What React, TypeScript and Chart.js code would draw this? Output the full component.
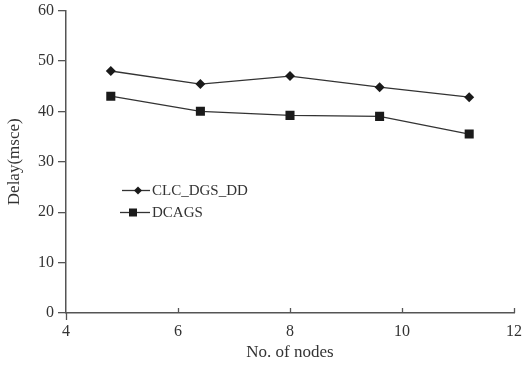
import React, { useEffect, useRef } from "react";
import { Chart, registerables } from "chart.js";

Chart.register(...registerables);

const nodes = [4.8, 6.4, 8.0, 9.6, 11.2];
const clcDgsDd = [48.0, 45.4, 47.0, 44.8, 42.8];
const dcags = [43.0, 40.0, 39.2, 39.0, 35.5];
const seriesNames = ["CLC_DGS_DD", "DCAGS"];
const xTicks = [4, 6, 8, 10, 12];
const yTicks = [0, 10, 20, 30, 40, 50, 60];

const FONT = "'Liberation Serif', 'Times New Roman', serif";
const TEXT = "#333333";
const AXIS = "#555555";
const LINE = "#333333";
const MARK = "#1a1a1a";

const customDraw = {
  id: "customDraw",
  afterDraw(chart: any) {
    const ctx = chart.ctx;
    const xs = chart.scales.x;
    const area = chart.chartArea;
    ctx.save();
    ctx.strokeStyle = AXIS;
    ctx.lineWidth = 1.3;
    xTicks.forEach((t, i) => {
      const px = Math.round(xs.getPixelForValue(t)) + 0.5;
      ctx.beginPath();
      if (i === 0) {
        ctx.moveTo(px, area.bottom);
        ctx.lineTo(px, area.bottom + 7);
      } else {
        ctx.moveTo(px, area.bottom);
        ctx.lineTo(px, area.bottom - 5);
      }
      ctx.stroke();
    });
    const entries = chart.data.datasets;
    const lx0 = area.left + 56;
    const ly0 = area.top + 180;
    entries.forEach((ds: any, i: number) => {
      const y = ly0 + i * 22;
      const x1 = lx0 - (i === 1 ? 2 : 0);
      const x2 = lx0 + 28;
      ctx.strokeStyle = LINE;
      ctx.lineWidth = 1.3;
      ctx.beginPath();
      ctx.moveTo(x1, y);
      ctx.lineTo(x2, y);
      ctx.stroke();
      ctx.fillStyle = MARK;
      const cx = i === 0 ? lx0 + 16 : lx0 + 11;
      if (ds.pointStyle === "rectRot") {
        ctx.beginPath();
        ctx.moveTo(cx, y - 4);
        ctx.lineTo(cx + 4, y);
        ctx.lineTo(cx, y + 4);
        ctx.lineTo(cx - 4, y);
        ctx.closePath();
        ctx.fill();
      } else {
        ctx.fillRect(cx - 4, y - 4, 8, 8);
      }
      ctx.fillStyle = TEXT;
      ctx.font = `15px ${FONT}`;
      ctx.textBaseline = "middle";
      ctx.textAlign = "left";
      ctx.fillText(ds.label, lx0 + 30, y + 1);
    });
    ctx.restore();
  },
};

export default function App() {
  const ref = useRef<HTMLCanvasElement>(null);
  useEffect(() => {
    document.body.style.margin = "0";
    const chart = new Chart(ref.current!, {
      type: "line",
      data: {
        datasets: [
          {
            label: seriesNames[0],
            data: nodes.map((x, i) => ({ x, y: clcDgsDd[i] })),
            borderColor: LINE,
            borderWidth: 1.3,
            pointStyle: "rectRot",
            pointRadius: 5,
            pointBackgroundColor: MARK,
            pointBorderColor: MARK,
            pointBorderWidth: 0,
            tension: 0,
          },
          {
            label: seriesNames[1],
            data: nodes.map((x, i) => ({ x, y: dcags[i] })),
            borderColor: LINE,
            borderWidth: 1.3,
            pointStyle: "rect",
            pointRadius: 6.4,
            pointBackgroundColor: MARK,
            pointBorderColor: MARK,
            pointBorderWidth: 0,
            tension: 0,
          },
        ],
      },
      options: {
        animation: false,
        responsive: false,
        maintainAspectRatio: false,
        layout: { padding: { top: 10.5, right: 10, bottom: 0, left: 0 } },
        plugins: { legend: { display: false }, tooltip: { enabled: false } },
        scales: {
          x: {
            type: "linear",
            min: 4,
            max: 12,
            afterBuildTicks: (s: any) => {
              s.ticks = xTicks.map((v) => ({ value: v }));
            },
            afterFit: (s: any) => {
              s.height = 53;
              s.paddingLeft = 0;
              s.paddingRight = 0;
            },
            ticks: {
              color: TEXT,
              font: { family: FONT, size: 16 },
              padding: 9,
              maxRotation: 0,
            },
            grid: { display: true, drawOnChartArea: false, drawTicks: false },
            border: { display: true, color: AXIS, width: 1.5 },
            title: {
              display: true,
              text: "No. of nodes",
              color: TEXT,
              font: { family: FONT, size: 17 },
              padding: { top: 0, bottom: 3 },
            },
          },
          y: {
            type: "linear",
            min: 0,
            max: 60,
            afterBuildTicks: (s: any) => {
              s.ticks = yTicks.map((v) => ({ value: v }));
            },
            afterFit: (s: any) => {
              s.width = 66;
              s.paddingTop = 0;
              s.paddingBottom = 0;
            },
            ticks: {
              color: TEXT,
              font: { family: FONT, size: 16 },
              padding: 4,
            },
            grid: {
              display: true,
              drawOnChartArea: false,
              drawTicks: true,
              tickLength: 8,
              color: AXIS,
              lineWidth: 1.3,
            },
            border: { display: true, color: AXIS, width: 1.5 },
            title: {
              display: true,
              text: "Delay(msce)",
              color: TEXT,
              font: { family: FONT, size: 17 },
              padding: { top: 4, bottom: 0 },
            },
          },
        },
      },
      plugins: [customDraw],
    });
    return () => chart.destroy();
  }, []);
  return (
    <div style={{ position: "fixed", left: 0, top: 0, width: 524, height: 366 }}>
      <canvas ref={ref} width={524} height={366} style={{ width: 524, height: 366, display: "block" }} />
    </div>
  );
}
